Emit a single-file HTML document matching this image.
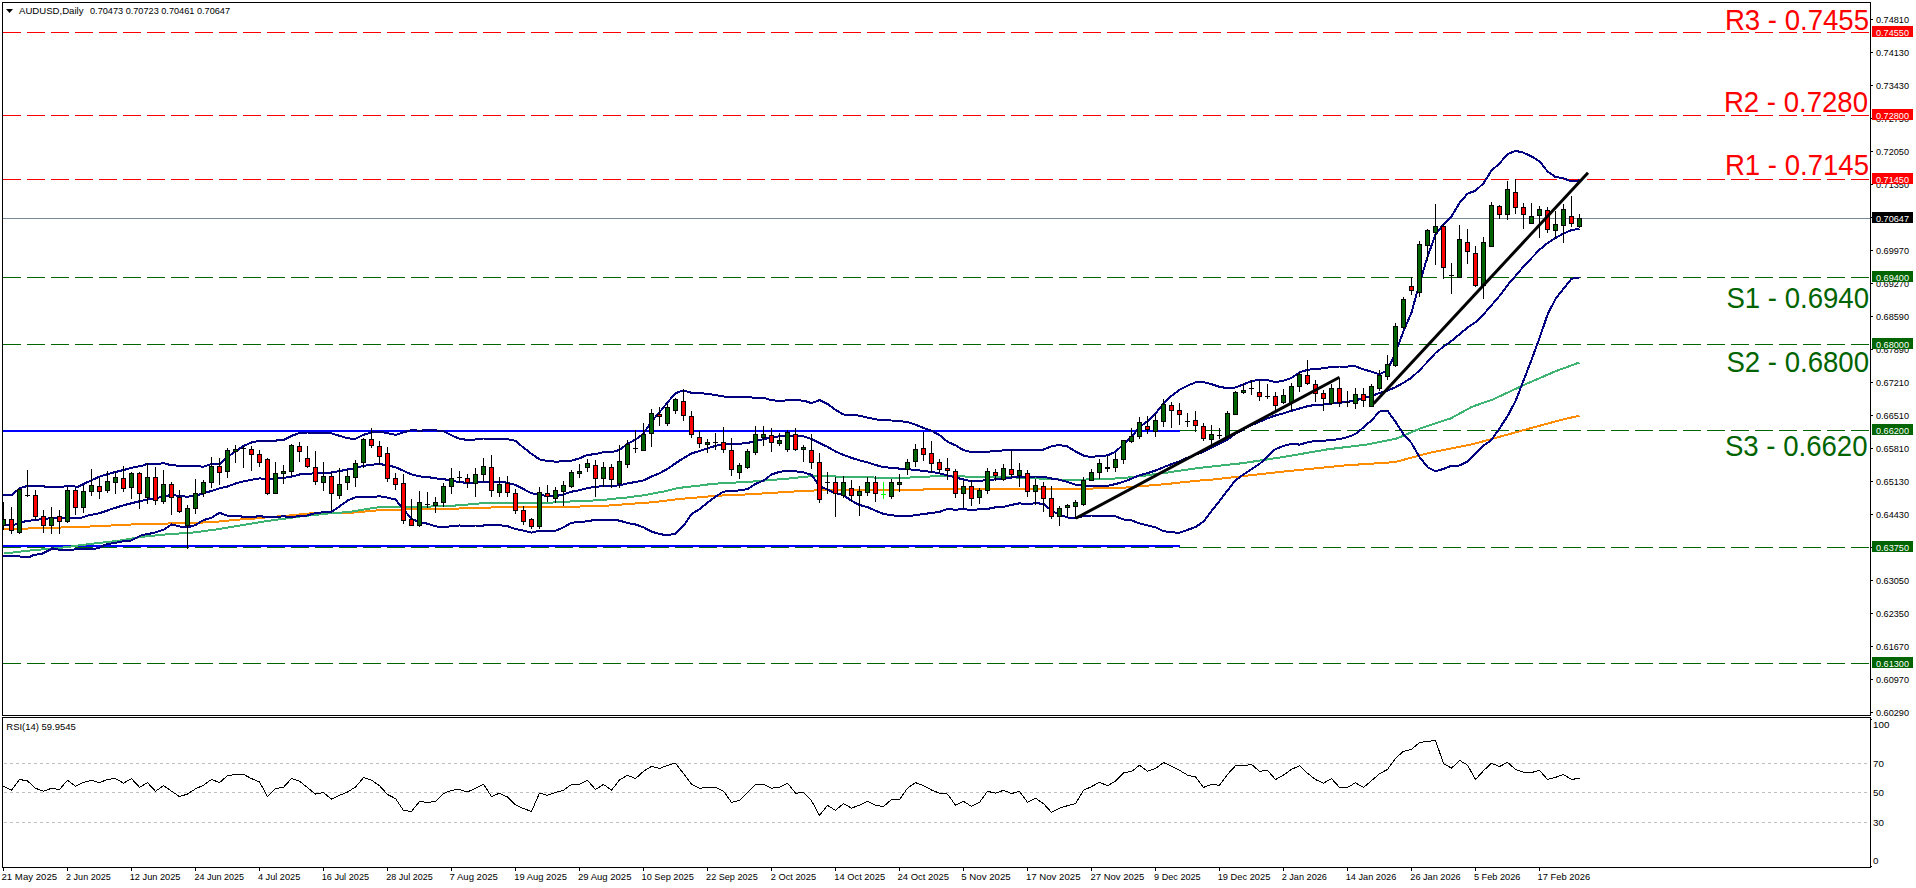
<!DOCTYPE html>
<html><head><meta charset="utf-8"><style>html,body{margin:0;padding:0;background:#fff;overflow:hidden}svg{display:block}</style></head>
<body>
<svg width="1916" height="888" viewBox="0 0 1916 888" shape-rendering="crispEdges">
<rect x="0" y="0" width="1916" height="888" fill="#fff"/>
<defs><clipPath id="cm"><rect x="3" y="3" width="1867" height="712"/></clipPath><clipPath id="cr"><rect x="3" y="719" width="1867" height="147"/></clipPath></defs>
<g clip-path="url(#cm)">
<line x1="3" y1="32.5" x2="1870" y2="32.5" stroke="#ff0000" stroke-width="1" stroke-dasharray="18 6"/>
<line x1="3" y1="115.5" x2="1870" y2="115.5" stroke="#ff0000" stroke-width="1" stroke-dasharray="18 6"/>
<line x1="3" y1="179.5" x2="1870" y2="179.5" stroke="#ff0000" stroke-width="1" stroke-dasharray="18 6"/>
<line x1="3" y1="277.5" x2="1870" y2="277.5" stroke="#006400" stroke-width="1" stroke-dasharray="18 6"/>
<line x1="3" y1="344.5" x2="1870" y2="344.5" stroke="#006400" stroke-width="1" stroke-dasharray="18 6"/>
<line x1="3" y1="430.5" x2="1870" y2="430.5" stroke="#006400" stroke-width="1" stroke-dasharray="18 6"/>
<line x1="3" y1="547.5" x2="1870" y2="547.5" stroke="#006400" stroke-width="1" stroke-dasharray="18 6"/>
<line x1="3" y1="663.5" x2="1870" y2="663.5" stroke="#006400" stroke-width="1" stroke-dasharray="18 6"/>
<line x1="3" y1="218.5" x2="1870" y2="218.5" stroke="#778899" stroke-width="1"/>
<rect x="3" y="430" width="1177" height="2" fill="#0000ff"/>
<rect x="3" y="545" width="1177" height="2" fill="#0000ff"/>
<polyline points="3.8,528.9 15.5,528.9 48.1,527.9 80.3,526.9 104.2,525.9 124.5,524.7 144.5,524.1 184.5,523.1 212.5,522.2 224.5,521.0 232.1,520.1 244.5,519.2 256.5,518.4 270.5,517.0 288.1,515.6 296.5,514.7 309.5,513.5 330.5,513.3 348.9,512.9 372.3,510.9 384.0,509.8 450.8,508.7 475.8,508.1 500.8,507.1 522.5,506.7 550.9,506.9 576.0,506.6 602.4,506.0 618.1,504.8 632.3,503.7 644.2,502.9 655.9,501.9 664.0,500.9 671.9,499.9 680.0,498.9 692.3,497.9 704.5,496.9 714.5,495.9 722.5,495.5 736.2,495.0 756.1,493.9 772.2,492.9 788.1,491.9 804.2,490.8 830.5,490.0 880.5,490.0 921.5,489.8 927.5,488.9 960.5,488.6 1059.5,488.5 1062.5,489.1 1090.5,489.1 1094.5,488.1 1123.5,488.1 1128.1,487.1 1136.0,486.6 1144.1,486.0 1156.0,484.9 1168.2,483.9 1176.5,482.9 1201.0,480.4 1213.0,479.5 1284.0,471.5 1346.6,465.3 1394.7,462.1 1430.1,452.7 1471.9,444.4 1513.7,432.9 1555.4,421.4 1579.4,415.6" fill="none" stroke="#ff8c00" stroke-width="2" stroke-linejoin="round" shape-rendering="crispEdges"/>
<polyline points="3.8,553.5 33.9,550.1 58.9,548.1 87.3,544.3 117.4,540.9 142.4,536.8 167.5,534.3 192.5,532.6 217.5,529.3 242.5,525.1 267.6,520.9 292.7,517.6 300.5,516.4 332.2,513.1 348.9,512.1 372.3,508.1 380.7,507.1 407.4,506.7 444.1,506.4 460.8,505.1 484.1,503.1 517.5,502.6 550.9,502.6 576.0,501.2 602.4,500.1 612.1,498.8 624.0,497.9 632.1,496.8 640.2,495.7 646.2,494.9 650.3,494.1 656.2,492.9 661.9,491.9 666.3,491.0 670.1,490.0 674.2,488.8 680.2,487.8 688.1,486.8 696.2,486.0 704.3,484.9 712.3,483.9 726.5,483.0 748.3,481.9 762.1,480.7 782.3,479.1 794.0,478.0 802.1,477.0 814.1,476.0 840.5,476.6 854.3,476.8 882.4,477.8 904.2,477.8 924.2,476.8 939.1,476.0 985.5,476.9 1020.5,477.6 1045.5,478.8 1060.5,479.6 1080.5,479.7 1112.1,478.7 1128.1,477.5 1136.2,476.6 1144.3,475.7 1152.4,474.5 1160.5,473.5 1168.5,472.4 1178.5,470.8 1200.5,467.8 1242.3,463.2 1284.0,456.9 1325.8,449.6 1367.5,444.4 1396.7,438.5 1419.7,428.7 1451.0,418.3 1471.9,406.8 1492.8,399.5 1524.1,384.9 1555.4,371.3 1579.4,362.5" fill="none" stroke="#3cb371" stroke-width="2" stroke-linejoin="round" shape-rendering="crispEdges"/>
<polyline points="3.2,494.9 12.3,494.9 17.8,489.7 20.9,487.8 26.5,486.2 43.9,486.2 45.1,487.2 62.5,487.2 64.9,486.0 72.4,486.0 77.3,487.0 87.2,482.2 99.6,476.6 112.0,472.9 124.4,469.8 131.3,467.8 143.4,465.4 148.1,463.5 155.5,464.1 163.5,463.2 171.5,465.3 179.5,465.7 187.5,465.9 195.5,466.1 203.5,466.7 211.5,463.9 219.5,464.2 227.5,457.1 235.5,451.4 243.5,445.9 251.5,442.5 259.5,440.7 267.5,440.8 275.5,440.6 283.5,439.9 291.5,435.9 299.5,433.1 307.5,432.5 315.5,433.1 323.5,433.0 331.5,433.3 339.5,435.8 347.5,438.4 355.5,438.8 363.5,434.8 371.5,432.5 379.5,431.7 387.5,433.2 395.5,434.9 403.5,432.4 411.5,430.0 419.5,430.7 427.5,430.2 435.5,430.4 443.5,431.1 451.5,435.4 459.5,438.7 467.5,440.0 475.5,439.5 483.5,438.5 491.5,438.5 499.5,438.5 507.5,439.1 515.5,440.9 523.5,447.7 531.5,453.8 539.5,459.4 547.5,461.1 555.5,461.6 563.5,461.4 571.5,460.7 579.5,458.3 587.5,454.9 595.5,454.1 603.5,452.1 611.5,452.2 619.5,449.9 627.5,443.7 635.5,439.6 643.5,433.5 651.5,421.5 659.5,412.4 667.5,402.4 675.5,393.2 683.5,390.3 691.5,392.8 699.5,393.0 707.5,394.0 715.5,395.0 723.5,396.5 731.5,396.7 739.5,397.0 747.5,397.1 755.5,397.8 763.5,397.8 771.5,400.3 779.5,400.8 787.5,400.4 795.5,400.3 803.5,400.6 811.5,403.1 819.5,400.1 827.5,403.9 835.5,409.9 843.5,414.5 851.5,415.0 859.5,415.6 867.5,417.6 875.5,419.3 883.5,420.4 891.5,420.5 899.5,421.0 907.5,422.1 915.5,424.6 923.5,427.9 931.5,430.8 939.5,435.0 947.5,441.8 955.5,445.3 963.5,450.2 971.5,452.0 979.5,452.5 987.5,451.6 995.5,451.3 1003.5,450.3 1011.5,450.3 1019.5,449.8 1027.5,449.6 1035.5,450.0 1043.5,449.6 1051.5,446.2 1059.5,445.0 1067.5,446.5 1075.5,451.5 1083.5,455.6 1091.5,457.1 1099.5,455.9 1107.5,455.4 1115.5,451.8 1123.5,444.1 1131.5,437.0 1139.5,427.1 1147.5,421.1 1155.5,413.5 1163.5,403.4 1171.5,395.8 1179.5,389.8 1187.5,385.6 1195.5,382.4 1203.5,382.0 1211.5,384.2 1219.5,386.8 1227.5,388.2 1235.5,387.5 1243.5,384.3 1251.5,381.1 1259.5,379.6 1267.5,380.1 1275.5,382.1 1283.5,380.6 1291.5,377.9 1299.5,372.4 1307.5,369.9 1315.5,368.8 1323.5,368.4 1331.5,366.7 1339.5,366.5 1347.5,366.5 1355.5,366.4 1363.5,369.3 1371.5,371.7 1379.5,374.4 1387.5,370.3 1395.5,352.7 1403.5,331.2 1411.5,312.6 1419.5,283.4 1427.5,256.7 1435.5,234.5 1443.5,224.2 1451.5,216.3 1459.5,203.0 1467.5,193.7 1475.5,190.7 1483.5,183.3 1491.5,170.6 1499.5,163.4 1507.5,154.3 1515.5,150.8 1523.5,152.7 1531.5,156.4 1539.5,161.3 1547.5,171.4 1555.5,177.0 1563.5,178.3 1571.5,181.4 1579.5,180.3" fill="none" stroke="#000080" stroke-width="2" stroke-linejoin="round" shape-rendering="crispEdges"/>
<polyline points="3.2,525.0 14.1,525.0 17.8,523.1 25.3,521.3 35.2,520.0 50.1,518.2 82.3,517.5 87.2,515.7 99.6,513.2 112.0,508.9 124.5,505.0 132.6,503.0 140.7,501.0 147.5,499.5 155.5,498.3 163.5,496.5 171.5,494.9 179.5,496.0 187.5,496.7 195.5,495.6 203.5,493.4 211.5,490.9 219.5,488.4 227.5,486.5 235.5,483.5 243.5,481.4 251.5,479.8 259.5,478.4 267.5,479.0 275.5,478.8 283.5,478.0 291.5,476.6 299.5,474.5 307.5,474.0 315.5,473.1 323.5,472.7 331.5,472.5 339.5,471.1 347.5,469.5 355.5,468.0 363.5,465.8 371.5,464.8 379.5,464.0 387.5,465.4 395.5,467.2 403.5,470.8 411.5,474.4 419.5,476.4 427.5,477.0 435.5,478.4 443.5,479.1 451.5,480.8 459.5,482.1 467.5,482.9 475.5,482.5 483.5,482.0 491.5,481.8 499.5,481.8 507.5,482.7 515.5,485.0 523.5,489.1 531.5,493.2 539.5,495.0 547.5,495.9 555.5,496.2 563.5,494.4 571.5,491.7 579.5,490.2 587.5,488.1 595.5,486.9 603.5,486.0 611.5,486.1 619.5,485.3 627.5,483.4 635.5,482.0 643.5,480.4 651.5,476.6 659.5,473.2 667.5,468.9 675.5,463.3 683.5,458.1 691.5,453.5 699.5,451.0 707.5,448.3 715.5,445.9 723.5,444.1 731.5,443.9 739.5,443.7 747.5,443.1 755.5,440.9 763.5,439.2 771.5,437.4 779.5,436.3 787.5,435.7 795.5,435.8 803.5,436.4 811.5,438.9 819.5,443.1 827.5,446.8 835.5,451.5 843.5,454.9 851.5,457.9 859.5,460.3 867.5,462.3 875.5,464.9 883.5,467.2 891.5,467.8 899.5,468.6 907.5,469.2 915.5,469.9 923.5,470.9 931.5,471.9 939.5,473.4 947.5,475.3 955.5,477.5 963.5,479.5 971.5,481.3 979.5,480.8 987.5,480.2 995.5,479.3 1003.5,478.6 1011.5,477.6 1019.5,476.5 1027.5,477.0 1035.5,476.5 1043.5,476.8 1051.5,478.5 1059.5,479.8 1067.5,482.0 1075.5,484.6 1083.5,485.9 1091.5,486.3 1099.5,486.0 1107.5,485.8 1115.5,484.1 1123.5,481.8 1131.5,478.7 1139.5,475.3 1147.5,473.2 1155.5,470.5 1163.5,467.2 1171.5,464.1 1179.5,461.3 1187.5,457.7 1195.5,454.8 1203.5,451.8 1211.5,447.6 1219.5,443.9 1227.5,439.4 1235.5,433.8 1243.5,429.4 1251.5,425.1 1259.5,421.8 1267.5,418.3 1275.5,415.5 1283.5,413.3 1291.5,410.8 1299.5,408.5 1307.5,406.2 1315.5,404.8 1323.5,404.5 1331.5,403.4 1339.5,402.8 1347.5,401.8 1355.5,400.2 1363.5,398.3 1371.5,396.0 1379.5,393.0 1387.5,390.5 1395.5,387.2 1403.5,382.7 1411.5,377.8 1419.5,370.2 1427.5,361.9 1435.5,353.0 1443.5,346.6 1451.5,341.0 1459.5,334.3 1467.5,327.6 1475.5,322.2 1483.5,314.4 1491.5,305.3 1499.5,295.9 1507.5,285.2 1515.5,275.9 1523.5,266.6 1531.5,258.1 1539.5,249.8 1547.5,243.1 1555.5,238.0 1563.5,233.5 1571.5,230.1 1579.5,228.8" fill="none" stroke="#000080" stroke-width="2" stroke-linejoin="round" shape-rendering="crispEdges"/>
<polyline points="3.2,556.0 19.1,556.0 20.3,556.8 30.2,556.8 32.7,555.3 42.6,553.5 52.5,548.5 60.0,549.8 92.2,549.1 99.6,547.9 104.5,544.8 114.5,542.9 124.4,541.1 131.3,540.5 142.4,534.8 147.5,534.2 155.5,532.4 163.5,529.8 171.5,524.5 179.5,526.4 187.5,527.5 195.5,525.0 203.5,520.1 211.5,517.8 219.5,512.7 227.5,515.8 235.5,515.6 243.5,516.8 251.5,517.2 259.5,516.1 267.5,517.2 275.5,517.1 283.5,516.2 291.5,517.4 299.5,515.9 307.5,515.5 315.5,513.0 323.5,512.3 331.5,511.7 339.5,506.4 347.5,500.6 355.5,497.2 363.5,496.9 371.5,497.1 379.5,496.3 387.5,497.6 395.5,499.5 403.5,509.3 411.5,518.8 419.5,522.1 427.5,523.7 435.5,526.4 443.5,527.1 451.5,526.2 459.5,525.5 467.5,525.7 475.5,525.5 483.5,525.5 491.5,525.2 499.5,525.2 507.5,526.2 515.5,529.1 523.5,530.6 531.5,532.6 539.5,530.6 547.5,530.7 555.5,530.7 563.5,527.4 571.5,522.7 579.5,522.0 587.5,521.3 595.5,519.7 603.5,519.9 611.5,519.9 619.5,520.6 627.5,523.0 635.5,524.5 643.5,527.3 651.5,531.6 659.5,534.0 667.5,535.4 675.5,533.5 683.5,525.8 691.5,514.1 699.5,509.1 707.5,502.6 715.5,496.7 723.5,491.6 731.5,491.2 739.5,490.4 747.5,489.1 755.5,483.9 763.5,480.6 771.5,474.5 779.5,471.8 787.5,471.0 795.5,471.3 803.5,472.3 811.5,474.8 819.5,486.1 827.5,489.7 835.5,493.2 843.5,495.2 851.5,500.8 859.5,505.0 867.5,507.1 875.5,510.6 883.5,514.0 891.5,515.1 899.5,516.3 907.5,516.3 915.5,515.2 923.5,513.9 931.5,513.1 939.5,511.9 947.5,508.9 955.5,509.8 963.5,508.7 971.5,510.5 979.5,509.1 987.5,508.9 995.5,507.3 1003.5,507.0 1011.5,504.9 1019.5,503.3 1027.5,504.4 1035.5,503.1 1043.5,503.9 1051.5,510.7 1059.5,514.6 1067.5,517.5 1075.5,517.8 1083.5,516.1 1091.5,515.5 1099.5,516.1 1107.5,516.3 1115.5,516.4 1123.5,519.4 1131.5,520.4 1139.5,523.4 1147.5,525.3 1155.5,527.4 1163.5,531.1 1171.5,532.3 1179.5,532.8 1187.5,529.9 1195.5,527.1 1203.5,521.6 1211.5,511.1 1219.5,501.1 1227.5,490.5 1235.5,480.2 1243.5,474.5 1251.5,469.2 1259.5,464.0 1267.5,456.4 1275.5,449.0 1283.5,446.0 1291.5,443.8 1299.5,444.6 1307.5,442.4 1315.5,440.9 1323.5,440.7 1331.5,440.1 1339.5,439.1 1347.5,437.2 1355.5,434.0 1363.5,427.4 1371.5,420.3 1379.5,411.6 1387.5,410.7 1395.5,421.7 1403.5,434.2 1411.5,443.0 1419.5,457.0 1427.5,467.1 1435.5,471.4 1443.5,468.9 1451.5,465.8 1459.5,465.5 1467.5,461.6 1475.5,453.8 1483.5,445.6 1491.5,440.0 1499.5,428.4 1507.5,416.2 1515.5,401.1 1523.5,380.6 1531.5,359.8 1539.5,338.2 1547.5,314.7 1555.5,298.9 1563.5,288.7 1571.5,278.8 1579.5,277.4" fill="none" stroke="#000080" stroke-width="2" stroke-linejoin="round" shape-rendering="crispEdges"/>
<rect x="3" y="502" width="1" height="28" fill="#000"/>
<rect x="1" y="519" width="5" height="7" fill="#000"/>
<rect x="2" y="520" width="3" height="5" fill="#006400"/>
<rect x="11" y="507" width="1" height="27" fill="#000"/>
<rect x="9" y="519" width="5" height="12" fill="#000"/>
<rect x="10" y="520" width="3" height="10" fill="#ff0000"/>
<rect x="19" y="489" width="1" height="45" fill="#000"/>
<rect x="17" y="489" width="5" height="44" fill="#000"/>
<rect x="18" y="490" width="3" height="42" fill="#006400"/>
<rect x="27" y="470" width="1" height="27" fill="#000"/>
<rect x="25" y="495" width="5" height="1" fill="#000"/>
<rect x="35" y="490" width="1" height="30" fill="#000"/>
<rect x="33" y="495" width="5" height="22" fill="#000"/>
<rect x="34" y="496" width="3" height="20" fill="#ff0000"/>
<rect x="43" y="510" width="1" height="23" fill="#000"/>
<rect x="41" y="516" width="5" height="10" fill="#000"/>
<rect x="42" y="517" width="3" height="8" fill="#ff0000"/>
<rect x="51" y="507" width="1" height="27" fill="#000"/>
<rect x="49" y="517" width="5" height="9" fill="#000"/>
<rect x="50" y="518" width="3" height="7" fill="#006400"/>
<rect x="59" y="510" width="1" height="24" fill="#000"/>
<rect x="57" y="516" width="5" height="6" fill="#000"/>
<rect x="58" y="517" width="3" height="4" fill="#ff0000"/>
<rect x="67" y="487" width="1" height="36" fill="#000"/>
<rect x="65" y="490" width="5" height="32" fill="#000"/>
<rect x="66" y="491" width="3" height="30" fill="#006400"/>
<rect x="75" y="488" width="1" height="27" fill="#000"/>
<rect x="73" y="490" width="5" height="18" fill="#000"/>
<rect x="74" y="491" width="3" height="16" fill="#ff0000"/>
<rect x="83" y="485" width="1" height="28" fill="#000"/>
<rect x="81" y="491" width="5" height="17" fill="#000"/>
<rect x="82" y="492" width="3" height="15" fill="#006400"/>
<rect x="91" y="469" width="1" height="27" fill="#000"/>
<rect x="89" y="485" width="5" height="7" fill="#000"/>
<rect x="90" y="486" width="3" height="5" fill="#006400"/>
<rect x="99" y="478" width="1" height="21" fill="#000"/>
<rect x="97" y="486" width="5" height="6" fill="#000"/>
<rect x="98" y="487" width="3" height="4" fill="#ff0000"/>
<rect x="107" y="471" width="1" height="22" fill="#000"/>
<rect x="105" y="481" width="5" height="10" fill="#000"/>
<rect x="106" y="482" width="3" height="8" fill="#006400"/>
<rect x="115" y="472" width="1" height="22" fill="#000"/>
<rect x="113" y="477" width="5" height="6" fill="#000"/>
<rect x="114" y="478" width="3" height="4" fill="#006400"/>
<rect x="123" y="466" width="1" height="26" fill="#000"/>
<rect x="121" y="478" width="5" height="11" fill="#000"/>
<rect x="122" y="479" width="3" height="9" fill="#ff0000"/>
<rect x="131" y="472" width="1" height="27" fill="#000"/>
<rect x="129" y="473" width="5" height="15" fill="#000"/>
<rect x="130" y="474" width="3" height="13" fill="#006400"/>
<rect x="139" y="472" width="1" height="37" fill="#000"/>
<rect x="137" y="473" width="5" height="21" fill="#000"/>
<rect x="138" y="474" width="3" height="19" fill="#ff0000"/>
<rect x="147" y="463" width="1" height="41" fill="#000"/>
<rect x="145" y="477" width="5" height="21" fill="#000"/>
<rect x="146" y="478" width="3" height="19" fill="#006400"/>
<rect x="155" y="467" width="1" height="38" fill="#000"/>
<rect x="153" y="477" width="5" height="24" fill="#000"/>
<rect x="154" y="478" width="3" height="22" fill="#ff0000"/>
<rect x="163" y="470" width="1" height="34" fill="#000"/>
<rect x="161" y="484" width="5" height="18" fill="#000"/>
<rect x="162" y="485" width="3" height="16" fill="#006400"/>
<rect x="171" y="482" width="1" height="33" fill="#000"/>
<rect x="169" y="484" width="5" height="14" fill="#000"/>
<rect x="170" y="485" width="3" height="12" fill="#ff0000"/>
<rect x="179" y="490" width="1" height="23" fill="#000"/>
<rect x="177" y="497" width="5" height="15" fill="#000"/>
<rect x="178" y="498" width="3" height="13" fill="#ff0000"/>
<rect x="187" y="505" width="1" height="44" fill="#000"/>
<rect x="185" y="508" width="5" height="18" fill="#000"/>
<rect x="186" y="509" width="3" height="16" fill="#006400"/>
<rect x="195" y="479" width="1" height="35" fill="#000"/>
<rect x="193" y="493" width="5" height="16" fill="#000"/>
<rect x="194" y="494" width="3" height="14" fill="#006400"/>
<rect x="203" y="480" width="1" height="17" fill="#000"/>
<rect x="201" y="482" width="5" height="12" fill="#000"/>
<rect x="202" y="483" width="3" height="10" fill="#006400"/>
<rect x="211" y="457" width="1" height="31" fill="#000"/>
<rect x="209" y="466" width="5" height="17" fill="#000"/>
<rect x="210" y="467" width="3" height="15" fill="#006400"/>
<rect x="219" y="458" width="1" height="27" fill="#000"/>
<rect x="217" y="466" width="5" height="7" fill="#000"/>
<rect x="218" y="467" width="3" height="5" fill="#ff0000"/>
<rect x="227" y="448" width="1" height="30" fill="#000"/>
<rect x="225" y="450" width="5" height="22" fill="#000"/>
<rect x="226" y="451" width="3" height="20" fill="#006400"/>
<rect x="235" y="445" width="1" height="18" fill="#000"/>
<rect x="233" y="449" width="5" height="3" fill="#000"/>
<rect x="234" y="450" width="3" height="1" fill="#006400"/>
<rect x="243" y="446" width="1" height="22" fill="#000"/>
<rect x="241" y="448" width="5" height="1" fill="#000"/>
<rect x="251" y="446" width="1" height="25" fill="#000"/>
<rect x="249" y="449" width="5" height="6" fill="#000"/>
<rect x="250" y="450" width="3" height="4" fill="#ff0000"/>
<rect x="259" y="450" width="1" height="17" fill="#000"/>
<rect x="257" y="454" width="5" height="9" fill="#000"/>
<rect x="258" y="455" width="3" height="7" fill="#ff0000"/>
<rect x="267" y="458" width="1" height="37" fill="#000"/>
<rect x="265" y="459" width="5" height="35" fill="#000"/>
<rect x="266" y="460" width="3" height="33" fill="#ff0000"/>
<rect x="275" y="462" width="1" height="32" fill="#000"/>
<rect x="273" y="473" width="5" height="21" fill="#000"/>
<rect x="274" y="474" width="3" height="19" fill="#006400"/>
<rect x="283" y="465" width="1" height="19" fill="#000"/>
<rect x="281" y="471" width="5" height="3" fill="#000"/>
<rect x="282" y="472" width="3" height="1" fill="#006400"/>
<rect x="291" y="444" width="1" height="32" fill="#000"/>
<rect x="289" y="445" width="5" height="27" fill="#000"/>
<rect x="290" y="446" width="3" height="25" fill="#006400"/>
<rect x="299" y="442" width="1" height="20" fill="#000"/>
<rect x="297" y="446" width="5" height="6" fill="#000"/>
<rect x="298" y="447" width="3" height="4" fill="#ff0000"/>
<rect x="307" y="446" width="1" height="22" fill="#000"/>
<rect x="305" y="458" width="5" height="9" fill="#000"/>
<rect x="306" y="459" width="3" height="7" fill="#ff0000"/>
<rect x="315" y="451" width="1" height="34" fill="#000"/>
<rect x="313" y="467" width="5" height="15" fill="#000"/>
<rect x="314" y="468" width="3" height="13" fill="#ff0000"/>
<rect x="323" y="462" width="1" height="29" fill="#000"/>
<rect x="321" y="476" width="5" height="7" fill="#000"/>
<rect x="322" y="477" width="3" height="5" fill="#006400"/>
<rect x="331" y="473" width="1" height="38" fill="#000"/>
<rect x="329" y="476" width="5" height="18" fill="#000"/>
<rect x="330" y="477" width="3" height="16" fill="#ff0000"/>
<rect x="339" y="468" width="1" height="31" fill="#000"/>
<rect x="337" y="484" width="5" height="12" fill="#000"/>
<rect x="338" y="485" width="3" height="10" fill="#006400"/>
<rect x="347" y="470" width="1" height="20" fill="#000"/>
<rect x="345" y="476" width="5" height="7" fill="#000"/>
<rect x="346" y="477" width="3" height="5" fill="#006400"/>
<rect x="355" y="460" width="1" height="27" fill="#000"/>
<rect x="353" y="463" width="5" height="15" fill="#000"/>
<rect x="354" y="464" width="3" height="13" fill="#006400"/>
<rect x="363" y="438" width="1" height="30" fill="#000"/>
<rect x="361" y="439" width="5" height="24" fill="#000"/>
<rect x="362" y="440" width="3" height="22" fill="#006400"/>
<rect x="371" y="428" width="1" height="20" fill="#000"/>
<rect x="369" y="439" width="5" height="7" fill="#000"/>
<rect x="370" y="440" width="3" height="5" fill="#ff0000"/>
<rect x="379" y="441" width="1" height="24" fill="#000"/>
<rect x="377" y="446" width="5" height="11" fill="#000"/>
<rect x="378" y="447" width="3" height="9" fill="#ff0000"/>
<rect x="387" y="447" width="1" height="35" fill="#000"/>
<rect x="385" y="453" width="5" height="26" fill="#000"/>
<rect x="386" y="454" width="3" height="24" fill="#ff0000"/>
<rect x="395" y="473" width="1" height="17" fill="#000"/>
<rect x="393" y="478" width="5" height="7" fill="#000"/>
<rect x="394" y="479" width="3" height="5" fill="#ff0000"/>
<rect x="403" y="474" width="1" height="50" fill="#000"/>
<rect x="401" y="483" width="5" height="38" fill="#000"/>
<rect x="402" y="484" width="3" height="36" fill="#ff0000"/>
<rect x="411" y="499" width="1" height="27" fill="#000"/>
<rect x="409" y="519" width="5" height="7" fill="#000"/>
<rect x="410" y="520" width="3" height="5" fill="#ff0000"/>
<rect x="419" y="491" width="1" height="36" fill="#000"/>
<rect x="417" y="502" width="5" height="24" fill="#000"/>
<rect x="418" y="503" width="3" height="22" fill="#006400"/>
<rect x="427" y="492" width="1" height="16" fill="#000"/>
<rect x="425" y="504" width="5" height="1" fill="#000"/>
<rect x="435" y="497" width="1" height="16" fill="#000"/>
<rect x="433" y="502" width="5" height="4" fill="#000"/>
<rect x="434" y="503" width="3" height="2" fill="#006400"/>
<rect x="443" y="483" width="1" height="24" fill="#000"/>
<rect x="441" y="486" width="5" height="17" fill="#000"/>
<rect x="442" y="487" width="3" height="15" fill="#006400"/>
<rect x="451" y="468" width="1" height="26" fill="#000"/>
<rect x="449" y="478" width="5" height="9" fill="#000"/>
<rect x="450" y="479" width="3" height="7" fill="#006400"/>
<rect x="459" y="471" width="1" height="12" fill="#000"/>
<rect x="457" y="477" width="5" height="1" fill="#000"/>
<rect x="467" y="474" width="1" height="14" fill="#000"/>
<rect x="465" y="478" width="5" height="5" fill="#000"/>
<rect x="466" y="479" width="3" height="3" fill="#ff0000"/>
<rect x="475" y="468" width="1" height="29" fill="#000"/>
<rect x="473" y="474" width="5" height="10" fill="#000"/>
<rect x="474" y="475" width="3" height="8" fill="#006400"/>
<rect x="483" y="458" width="1" height="24" fill="#000"/>
<rect x="481" y="466" width="5" height="9" fill="#000"/>
<rect x="482" y="467" width="3" height="7" fill="#006400"/>
<rect x="491" y="455" width="1" height="42" fill="#000"/>
<rect x="489" y="467" width="5" height="24" fill="#000"/>
<rect x="490" y="468" width="3" height="22" fill="#ff0000"/>
<rect x="499" y="477" width="1" height="20" fill="#000"/>
<rect x="497" y="484" width="5" height="9" fill="#000"/>
<rect x="498" y="485" width="3" height="7" fill="#006400"/>
<rect x="507" y="476" width="1" height="21" fill="#000"/>
<rect x="505" y="483" width="5" height="10" fill="#000"/>
<rect x="506" y="484" width="3" height="8" fill="#ff0000"/>
<rect x="515" y="489" width="1" height="25" fill="#000"/>
<rect x="513" y="493" width="5" height="18" fill="#000"/>
<rect x="514" y="494" width="3" height="16" fill="#ff0000"/>
<rect x="523" y="506" width="1" height="19" fill="#000"/>
<rect x="521" y="510" width="5" height="12" fill="#000"/>
<rect x="522" y="511" width="3" height="10" fill="#ff0000"/>
<rect x="531" y="518" width="1" height="11" fill="#000"/>
<rect x="529" y="519" width="5" height="8" fill="#000"/>
<rect x="530" y="520" width="3" height="6" fill="#ff0000"/>
<rect x="539" y="487" width="1" height="42" fill="#000"/>
<rect x="537" y="492" width="5" height="35" fill="#000"/>
<rect x="538" y="493" width="3" height="33" fill="#006400"/>
<rect x="547" y="485" width="1" height="17" fill="#000"/>
<rect x="545" y="493" width="5" height="4" fill="#000"/>
<rect x="546" y="494" width="3" height="2" fill="#ff0000"/>
<rect x="555" y="487" width="1" height="16" fill="#000"/>
<rect x="553" y="490" width="5" height="9" fill="#000"/>
<rect x="554" y="491" width="3" height="7" fill="#006400"/>
<rect x="563" y="481" width="1" height="25" fill="#000"/>
<rect x="561" y="485" width="5" height="7" fill="#000"/>
<rect x="562" y="486" width="3" height="5" fill="#006400"/>
<rect x="571" y="470" width="1" height="18" fill="#000"/>
<rect x="569" y="472" width="5" height="15" fill="#000"/>
<rect x="570" y="473" width="3" height="13" fill="#006400"/>
<rect x="579" y="464" width="1" height="14" fill="#000"/>
<rect x="577" y="471" width="5" height="3" fill="#000"/>
<rect x="578" y="472" width="3" height="1" fill="#006400"/>
<rect x="587" y="459" width="1" height="13" fill="#000"/>
<rect x="585" y="463" width="5" height="5" fill="#000"/>
<rect x="586" y="464" width="3" height="3" fill="#006400"/>
<rect x="595" y="460" width="1" height="37" fill="#000"/>
<rect x="593" y="465" width="5" height="14" fill="#000"/>
<rect x="594" y="466" width="3" height="12" fill="#ff0000"/>
<rect x="603" y="462" width="1" height="25" fill="#000"/>
<rect x="601" y="467" width="5" height="12" fill="#000"/>
<rect x="602" y="468" width="3" height="10" fill="#006400"/>
<rect x="611" y="464" width="1" height="24" fill="#000"/>
<rect x="609" y="467" width="5" height="13" fill="#000"/>
<rect x="610" y="468" width="3" height="11" fill="#ff0000"/>
<rect x="619" y="445" width="1" height="43" fill="#000"/>
<rect x="617" y="461" width="5" height="23" fill="#000"/>
<rect x="618" y="462" width="3" height="21" fill="#006400"/>
<rect x="627" y="440" width="1" height="28" fill="#000"/>
<rect x="625" y="444" width="5" height="21" fill="#000"/>
<rect x="626" y="445" width="3" height="19" fill="#006400"/>
<rect x="635" y="430" width="1" height="23" fill="#000"/>
<rect x="633" y="448" width="5" height="1" fill="#000"/>
<rect x="643" y="423" width="1" height="28" fill="#000"/>
<rect x="641" y="434" width="5" height="17" fill="#000"/>
<rect x="642" y="435" width="3" height="15" fill="#006400"/>
<rect x="651" y="409" width="1" height="38" fill="#000"/>
<rect x="649" y="413" width="5" height="21" fill="#000"/>
<rect x="650" y="414" width="3" height="19" fill="#006400"/>
<rect x="659" y="407" width="1" height="19" fill="#000"/>
<rect x="657" y="414" width="5" height="3" fill="#000"/>
<rect x="658" y="415" width="3" height="1" fill="#ff0000"/>
<rect x="667" y="404" width="1" height="22" fill="#000"/>
<rect x="665" y="407" width="5" height="17" fill="#000"/>
<rect x="666" y="408" width="3" height="15" fill="#006400"/>
<rect x="675" y="398" width="1" height="16" fill="#000"/>
<rect x="673" y="399" width="5" height="12" fill="#000"/>
<rect x="674" y="400" width="3" height="10" fill="#006400"/>
<rect x="683" y="389" width="1" height="32" fill="#000"/>
<rect x="681" y="401" width="5" height="15" fill="#000"/>
<rect x="682" y="402" width="3" height="13" fill="#ff0000"/>
<rect x="691" y="411" width="1" height="27" fill="#000"/>
<rect x="689" y="416" width="5" height="19" fill="#000"/>
<rect x="690" y="417" width="3" height="17" fill="#ff0000"/>
<rect x="699" y="431" width="1" height="17" fill="#000"/>
<rect x="697" y="437" width="5" height="7" fill="#000"/>
<rect x="698" y="438" width="3" height="5" fill="#ff0000"/>
<rect x="707" y="439" width="1" height="14" fill="#000"/>
<rect x="705" y="442" width="5" height="3" fill="#000"/>
<rect x="706" y="443" width="3" height="1" fill="#006400"/>
<rect x="715" y="433" width="1" height="17" fill="#000"/>
<rect x="713" y="442" width="5" height="1" fill="#000"/>
<rect x="723" y="427" width="1" height="26" fill="#000"/>
<rect x="721" y="442" width="5" height="8" fill="#000"/>
<rect x="722" y="443" width="3" height="6" fill="#ff0000"/>
<rect x="731" y="438" width="1" height="38" fill="#000"/>
<rect x="729" y="450" width="5" height="20" fill="#000"/>
<rect x="730" y="451" width="3" height="18" fill="#ff0000"/>
<rect x="739" y="463" width="1" height="16" fill="#000"/>
<rect x="737" y="465" width="5" height="8" fill="#000"/>
<rect x="738" y="466" width="3" height="6" fill="#006400"/>
<rect x="747" y="449" width="1" height="20" fill="#000"/>
<rect x="745" y="451" width="5" height="17" fill="#000"/>
<rect x="746" y="452" width="3" height="15" fill="#006400"/>
<rect x="755" y="426" width="1" height="29" fill="#000"/>
<rect x="753" y="434" width="5" height="19" fill="#000"/>
<rect x="754" y="435" width="3" height="17" fill="#006400"/>
<rect x="763" y="426" width="1" height="20" fill="#000"/>
<rect x="761" y="434" width="5" height="4" fill="#000"/>
<rect x="762" y="435" width="3" height="2" fill="#006400"/>
<rect x="771" y="428" width="1" height="24" fill="#000"/>
<rect x="769" y="435" width="5" height="8" fill="#000"/>
<rect x="770" y="436" width="3" height="6" fill="#ff0000"/>
<rect x="779" y="433" width="1" height="13" fill="#000"/>
<rect x="777" y="440" width="5" height="4" fill="#000"/>
<rect x="778" y="441" width="3" height="2" fill="#006400"/>
<rect x="787" y="430" width="1" height="22" fill="#000"/>
<rect x="785" y="432" width="5" height="18" fill="#000"/>
<rect x="786" y="433" width="3" height="16" fill="#006400"/>
<rect x="795" y="428" width="1" height="23" fill="#000"/>
<rect x="793" y="434" width="5" height="16" fill="#000"/>
<rect x="794" y="435" width="3" height="14" fill="#ff0000"/>
<rect x="803" y="445" width="1" height="17" fill="#000"/>
<rect x="801" y="447" width="5" height="3" fill="#000"/>
<rect x="802" y="448" width="3" height="1" fill="#006400"/>
<rect x="811" y="434" width="1" height="35" fill="#000"/>
<rect x="809" y="450" width="5" height="13" fill="#000"/>
<rect x="810" y="451" width="3" height="11" fill="#ff0000"/>
<rect x="819" y="453" width="1" height="50" fill="#000"/>
<rect x="817" y="462" width="5" height="38" fill="#000"/>
<rect x="818" y="463" width="3" height="36" fill="#ff0000"/>
<rect x="827" y="472" width="1" height="22" fill="#000"/>
<rect x="825" y="482" width="5" height="1" fill="#000"/>
<rect x="835" y="477" width="1" height="40" fill="#000"/>
<rect x="833" y="482" width="5" height="12" fill="#000"/>
<rect x="834" y="483" width="3" height="10" fill="#ff0000"/>
<rect x="843" y="476" width="1" height="22" fill="#000"/>
<rect x="841" y="482" width="5" height="14" fill="#000"/>
<rect x="842" y="483" width="3" height="12" fill="#006400"/>
<rect x="851" y="480" width="1" height="22" fill="#000"/>
<rect x="849" y="488" width="5" height="8" fill="#000"/>
<rect x="850" y="489" width="3" height="6" fill="#ff0000"/>
<rect x="859" y="486" width="1" height="30" fill="#000"/>
<rect x="857" y="491" width="5" height="5" fill="#000"/>
<rect x="858" y="492" width="3" height="3" fill="#006400"/>
<rect x="867" y="477" width="1" height="19" fill="#000"/>
<rect x="865" y="482" width="5" height="11" fill="#000"/>
<rect x="866" y="483" width="3" height="9" fill="#006400"/>
<rect x="875" y="476" width="1" height="26" fill="#000"/>
<rect x="873" y="482" width="5" height="12" fill="#000"/>
<rect x="874" y="483" width="3" height="10" fill="#ff0000"/>
<rect x="883" y="482" width="1" height="17" fill="#00ff00"/>
<rect x="881" y="494" width="5" height="1" fill="#00ff00"/>
<rect x="891" y="479" width="1" height="20" fill="#000"/>
<rect x="889" y="482" width="5" height="15" fill="#000"/>
<rect x="890" y="483" width="3" height="13" fill="#006400"/>
<rect x="899" y="474" width="1" height="18" fill="#000"/>
<rect x="897" y="482" width="5" height="3" fill="#000"/>
<rect x="898" y="483" width="3" height="1" fill="#006400"/>
<rect x="907" y="459" width="1" height="16" fill="#000"/>
<rect x="905" y="462" width="5" height="8" fill="#000"/>
<rect x="906" y="463" width="3" height="6" fill="#006400"/>
<rect x="915" y="444" width="1" height="23" fill="#000"/>
<rect x="913" y="449" width="5" height="13" fill="#000"/>
<rect x="914" y="450" width="3" height="11" fill="#006400"/>
<rect x="923" y="432" width="1" height="29" fill="#000"/>
<rect x="921" y="448" width="5" height="7" fill="#000"/>
<rect x="922" y="449" width="3" height="5" fill="#ff0000"/>
<rect x="931" y="441" width="1" height="32" fill="#000"/>
<rect x="929" y="453" width="5" height="11" fill="#000"/>
<rect x="930" y="454" width="3" height="9" fill="#ff0000"/>
<rect x="939" y="459" width="1" height="14" fill="#000"/>
<rect x="937" y="462" width="5" height="8" fill="#000"/>
<rect x="938" y="463" width="3" height="6" fill="#ff0000"/>
<rect x="947" y="458" width="1" height="22" fill="#000"/>
<rect x="945" y="468" width="5" height="3" fill="#000"/>
<rect x="946" y="469" width="3" height="1" fill="#ff0000"/>
<rect x="955" y="469" width="1" height="29" fill="#000"/>
<rect x="953" y="471" width="5" height="23" fill="#000"/>
<rect x="954" y="472" width="3" height="21" fill="#ff0000"/>
<rect x="963" y="481" width="1" height="27" fill="#000"/>
<rect x="961" y="486" width="5" height="8" fill="#000"/>
<rect x="962" y="487" width="3" height="6" fill="#006400"/>
<rect x="971" y="480" width="1" height="26" fill="#000"/>
<rect x="969" y="486" width="5" height="13" fill="#000"/>
<rect x="970" y="487" width="3" height="11" fill="#ff0000"/>
<rect x="979" y="488" width="1" height="16" fill="#000"/>
<rect x="977" y="490" width="5" height="8" fill="#000"/>
<rect x="978" y="491" width="3" height="6" fill="#006400"/>
<rect x="987" y="468" width="1" height="26" fill="#000"/>
<rect x="985" y="471" width="5" height="20" fill="#000"/>
<rect x="986" y="472" width="3" height="18" fill="#006400"/>
<rect x="995" y="469" width="1" height="12" fill="#000"/>
<rect x="993" y="472" width="5" height="4" fill="#000"/>
<rect x="994" y="473" width="3" height="2" fill="#ff0000"/>
<rect x="1003" y="464" width="1" height="17" fill="#000"/>
<rect x="1001" y="468" width="5" height="12" fill="#000"/>
<rect x="1002" y="469" width="3" height="10" fill="#006400"/>
<rect x="1011" y="450" width="1" height="27" fill="#000"/>
<rect x="1009" y="469" width="5" height="6" fill="#000"/>
<rect x="1010" y="470" width="3" height="4" fill="#ff0000"/>
<rect x="1019" y="463" width="1" height="24" fill="#000"/>
<rect x="1017" y="470" width="5" height="6" fill="#000"/>
<rect x="1018" y="471" width="3" height="4" fill="#006400"/>
<rect x="1027" y="470" width="1" height="27" fill="#000"/>
<rect x="1025" y="473" width="5" height="19" fill="#000"/>
<rect x="1026" y="474" width="3" height="17" fill="#ff0000"/>
<rect x="1035" y="479" width="1" height="26" fill="#000"/>
<rect x="1033" y="485" width="5" height="7" fill="#000"/>
<rect x="1034" y="486" width="3" height="5" fill="#006400"/>
<rect x="1043" y="482" width="1" height="30" fill="#000"/>
<rect x="1041" y="486" width="5" height="13" fill="#000"/>
<rect x="1042" y="487" width="3" height="11" fill="#ff0000"/>
<rect x="1051" y="486" width="1" height="33" fill="#000"/>
<rect x="1049" y="498" width="5" height="19" fill="#000"/>
<rect x="1050" y="499" width="3" height="17" fill="#ff0000"/>
<rect x="1059" y="506" width="1" height="20" fill="#000"/>
<rect x="1057" y="508" width="5" height="9" fill="#000"/>
<rect x="1058" y="509" width="3" height="7" fill="#006400"/>
<rect x="1067" y="504" width="1" height="13" fill="#000"/>
<rect x="1065" y="505" width="5" height="3" fill="#000"/>
<rect x="1066" y="506" width="3" height="1" fill="#006400"/>
<rect x="1075" y="500" width="1" height="19" fill="#000"/>
<rect x="1073" y="502" width="5" height="5" fill="#000"/>
<rect x="1074" y="503" width="3" height="3" fill="#006400"/>
<rect x="1083" y="477" width="1" height="29" fill="#000"/>
<rect x="1081" y="480" width="5" height="25" fill="#000"/>
<rect x="1082" y="481" width="3" height="23" fill="#006400"/>
<rect x="1091" y="469" width="1" height="12" fill="#000"/>
<rect x="1089" y="472" width="5" height="9" fill="#000"/>
<rect x="1090" y="473" width="3" height="7" fill="#006400"/>
<rect x="1099" y="459" width="1" height="20" fill="#000"/>
<rect x="1097" y="463" width="5" height="10" fill="#000"/>
<rect x="1098" y="464" width="3" height="8" fill="#006400"/>
<rect x="1107" y="456" width="1" height="16" fill="#000"/>
<rect x="1105" y="467" width="5" height="2" fill="#000"/>
<rect x="1115" y="453" width="1" height="19" fill="#000"/>
<rect x="1113" y="459" width="5" height="9" fill="#000"/>
<rect x="1114" y="460" width="3" height="7" fill="#006400"/>
<rect x="1123" y="440" width="1" height="24" fill="#000"/>
<rect x="1121" y="440" width="5" height="20" fill="#000"/>
<rect x="1122" y="441" width="3" height="18" fill="#006400"/>
<rect x="1131" y="428" width="1" height="15" fill="#000"/>
<rect x="1129" y="436" width="5" height="6" fill="#000"/>
<rect x="1130" y="437" width="3" height="4" fill="#006400"/>
<rect x="1139" y="417" width="1" height="22" fill="#000"/>
<rect x="1137" y="422" width="5" height="15" fill="#000"/>
<rect x="1138" y="423" width="3" height="13" fill="#006400"/>
<rect x="1147" y="416" width="1" height="18" fill="#000"/>
<rect x="1145" y="426" width="5" height="4" fill="#000"/>
<rect x="1146" y="427" width="3" height="2" fill="#ff0000"/>
<rect x="1155" y="414" width="1" height="23" fill="#000"/>
<rect x="1153" y="420" width="5" height="12" fill="#000"/>
<rect x="1154" y="421" width="3" height="10" fill="#006400"/>
<rect x="1163" y="399" width="1" height="28" fill="#000"/>
<rect x="1161" y="404" width="5" height="18" fill="#000"/>
<rect x="1162" y="405" width="3" height="16" fill="#006400"/>
<rect x="1171" y="402" width="1" height="26" fill="#000"/>
<rect x="1169" y="405" width="5" height="6" fill="#000"/>
<rect x="1170" y="406" width="3" height="4" fill="#ff0000"/>
<rect x="1179" y="403" width="1" height="22" fill="#000"/>
<rect x="1177" y="410" width="5" height="5" fill="#000"/>
<rect x="1178" y="411" width="3" height="3" fill="#ff0000"/>
<rect x="1187" y="413" width="1" height="14" fill="#000"/>
<rect x="1185" y="421" width="5" height="1" fill="#000"/>
<rect x="1195" y="411" width="1" height="21" fill="#000"/>
<rect x="1193" y="420" width="5" height="6" fill="#000"/>
<rect x="1194" y="421" width="3" height="4" fill="#ff0000"/>
<rect x="1203" y="423" width="1" height="18" fill="#000"/>
<rect x="1201" y="426" width="5" height="13" fill="#000"/>
<rect x="1202" y="427" width="3" height="11" fill="#ff0000"/>
<rect x="1211" y="425" width="1" height="20" fill="#000"/>
<rect x="1209" y="434" width="5" height="6" fill="#000"/>
<rect x="1210" y="435" width="3" height="4" fill="#006400"/>
<rect x="1219" y="428" width="1" height="11" fill="#000"/>
<rect x="1217" y="435" width="5" height="1" fill="#000"/>
<rect x="1227" y="411" width="1" height="27" fill="#000"/>
<rect x="1225" y="413" width="5" height="24" fill="#000"/>
<rect x="1226" y="414" width="3" height="22" fill="#006400"/>
<rect x="1235" y="391" width="1" height="24" fill="#000"/>
<rect x="1233" y="392" width="5" height="23" fill="#000"/>
<rect x="1234" y="393" width="3" height="21" fill="#006400"/>
<rect x="1243" y="384" width="1" height="10" fill="#000"/>
<rect x="1241" y="390" width="5" height="3" fill="#000"/>
<rect x="1242" y="391" width="3" height="1" fill="#006400"/>
<rect x="1251" y="380" width="1" height="15" fill="#000"/>
<rect x="1249" y="388" width="5" height="1" fill="#000"/>
<rect x="1259" y="380" width="1" height="21" fill="#000"/>
<rect x="1257" y="392" width="5" height="5" fill="#000"/>
<rect x="1258" y="393" width="3" height="3" fill="#ff0000"/>
<rect x="1267" y="384" width="1" height="15" fill="#000"/>
<rect x="1265" y="396" width="5" height="1" fill="#000"/>
<rect x="1275" y="392" width="1" height="18" fill="#000"/>
<rect x="1273" y="396" width="5" height="10" fill="#000"/>
<rect x="1274" y="397" width="3" height="8" fill="#ff0000"/>
<rect x="1283" y="389" width="1" height="15" fill="#000"/>
<rect x="1281" y="395" width="5" height="8" fill="#000"/>
<rect x="1282" y="396" width="3" height="6" fill="#006400"/>
<rect x="1291" y="383" width="1" height="28" fill="#000"/>
<rect x="1289" y="386" width="5" height="17" fill="#000"/>
<rect x="1290" y="387" width="3" height="15" fill="#006400"/>
<rect x="1299" y="372" width="1" height="20" fill="#000"/>
<rect x="1297" y="374" width="5" height="13" fill="#000"/>
<rect x="1298" y="375" width="3" height="11" fill="#006400"/>
<rect x="1307" y="360" width="1" height="25" fill="#000"/>
<rect x="1305" y="375" width="5" height="9" fill="#000"/>
<rect x="1306" y="376" width="3" height="7" fill="#ff0000"/>
<rect x="1315" y="380" width="1" height="22" fill="#000"/>
<rect x="1313" y="384" width="5" height="10" fill="#000"/>
<rect x="1314" y="385" width="3" height="8" fill="#ff0000"/>
<rect x="1323" y="390" width="1" height="21" fill="#000"/>
<rect x="1321" y="393" width="5" height="6" fill="#000"/>
<rect x="1322" y="394" width="3" height="4" fill="#ff0000"/>
<rect x="1331" y="384" width="1" height="21" fill="#000"/>
<rect x="1329" y="388" width="5" height="16" fill="#000"/>
<rect x="1330" y="389" width="3" height="14" fill="#006400"/>
<rect x="1339" y="378" width="1" height="29" fill="#000"/>
<rect x="1337" y="388" width="5" height="15" fill="#000"/>
<rect x="1338" y="389" width="3" height="13" fill="#ff0000"/>
<rect x="1347" y="391" width="1" height="16" fill="#000"/>
<rect x="1345" y="402" width="5" height="1" fill="#000"/>
<rect x="1355" y="388" width="1" height="21" fill="#000"/>
<rect x="1353" y="394" width="5" height="10" fill="#000"/>
<rect x="1354" y="395" width="3" height="8" fill="#006400"/>
<rect x="1363" y="388" width="1" height="19" fill="#000"/>
<rect x="1361" y="394" width="5" height="7" fill="#000"/>
<rect x="1362" y="395" width="3" height="5" fill="#ff0000"/>
<rect x="1371" y="384" width="1" height="23" fill="#000"/>
<rect x="1369" y="386" width="5" height="21" fill="#000"/>
<rect x="1370" y="387" width="3" height="19" fill="#006400"/>
<rect x="1379" y="370" width="1" height="21" fill="#000"/>
<rect x="1377" y="375" width="5" height="14" fill="#000"/>
<rect x="1378" y="376" width="3" height="12" fill="#006400"/>
<rect x="1387" y="355" width="1" height="25" fill="#000"/>
<rect x="1385" y="364" width="5" height="13" fill="#000"/>
<rect x="1386" y="365" width="3" height="11" fill="#006400"/>
<rect x="1395" y="323" width="1" height="44" fill="#000"/>
<rect x="1393" y="326" width="5" height="40" fill="#000"/>
<rect x="1394" y="327" width="3" height="38" fill="#006400"/>
<rect x="1403" y="297" width="1" height="32" fill="#000"/>
<rect x="1401" y="299" width="5" height="29" fill="#000"/>
<rect x="1402" y="300" width="3" height="27" fill="#006400"/>
<rect x="1411" y="277" width="1" height="18" fill="#000"/>
<rect x="1409" y="286" width="5" height="5" fill="#000"/>
<rect x="1410" y="287" width="3" height="3" fill="#ff0000"/>
<rect x="1419" y="241" width="1" height="56" fill="#000"/>
<rect x="1417" y="244" width="5" height="49" fill="#000"/>
<rect x="1418" y="245" width="3" height="47" fill="#006400"/>
<rect x="1427" y="229" width="1" height="32" fill="#000"/>
<rect x="1425" y="230" width="5" height="16" fill="#000"/>
<rect x="1426" y="231" width="3" height="14" fill="#006400"/>
<rect x="1435" y="204" width="1" height="61" fill="#000"/>
<rect x="1433" y="226" width="5" height="7" fill="#000"/>
<rect x="1434" y="227" width="3" height="5" fill="#006400"/>
<rect x="1443" y="224" width="1" height="55" fill="#000"/>
<rect x="1441" y="226" width="5" height="42" fill="#000"/>
<rect x="1442" y="227" width="3" height="40" fill="#ff0000"/>
<rect x="1451" y="263" width="1" height="31" fill="#000"/>
<rect x="1449" y="275" width="5" height="1" fill="#000"/>
<rect x="1459" y="225" width="1" height="53" fill="#000"/>
<rect x="1457" y="239" width="5" height="39" fill="#000"/>
<rect x="1458" y="240" width="3" height="37" fill="#006400"/>
<rect x="1467" y="229" width="1" height="35" fill="#000"/>
<rect x="1465" y="242" width="5" height="10" fill="#000"/>
<rect x="1466" y="243" width="3" height="8" fill="#ff0000"/>
<rect x="1475" y="246" width="1" height="41" fill="#000"/>
<rect x="1473" y="253" width="5" height="33" fill="#000"/>
<rect x="1474" y="254" width="3" height="31" fill="#ff0000"/>
<rect x="1483" y="237" width="1" height="62" fill="#000"/>
<rect x="1481" y="242" width="5" height="44" fill="#000"/>
<rect x="1482" y="243" width="3" height="42" fill="#006400"/>
<rect x="1491" y="202" width="1" height="45" fill="#000"/>
<rect x="1489" y="205" width="5" height="42" fill="#000"/>
<rect x="1490" y="206" width="3" height="40" fill="#006400"/>
<rect x="1499" y="205" width="1" height="14" fill="#000"/>
<rect x="1497" y="206" width="5" height="9" fill="#000"/>
<rect x="1498" y="207" width="3" height="7" fill="#ff0000"/>
<rect x="1507" y="181" width="1" height="39" fill="#000"/>
<rect x="1505" y="189" width="5" height="26" fill="#000"/>
<rect x="1506" y="190" width="3" height="24" fill="#006400"/>
<rect x="1515" y="179" width="1" height="35" fill="#000"/>
<rect x="1513" y="192" width="5" height="16" fill="#000"/>
<rect x="1514" y="193" width="3" height="14" fill="#ff0000"/>
<rect x="1523" y="203" width="1" height="26" fill="#000"/>
<rect x="1521" y="207" width="5" height="8" fill="#000"/>
<rect x="1522" y="208" width="3" height="6" fill="#ff0000"/>
<rect x="1531" y="203" width="1" height="21" fill="#000"/>
<rect x="1529" y="216" width="5" height="8" fill="#000"/>
<rect x="1530" y="217" width="3" height="6" fill="#006400"/>
<rect x="1539" y="206" width="1" height="32" fill="#000"/>
<rect x="1537" y="209" width="5" height="7" fill="#000"/>
<rect x="1538" y="210" width="3" height="5" fill="#006400"/>
<rect x="1547" y="207" width="1" height="26" fill="#000"/>
<rect x="1545" y="210" width="5" height="20" fill="#000"/>
<rect x="1546" y="211" width="3" height="18" fill="#ff0000"/>
<rect x="1555" y="211" width="1" height="28" fill="#000"/>
<rect x="1553" y="224" width="5" height="7" fill="#000"/>
<rect x="1554" y="225" width="3" height="5" fill="#006400"/>
<rect x="1563" y="204" width="1" height="39" fill="#000"/>
<rect x="1561" y="209" width="5" height="17" fill="#000"/>
<rect x="1562" y="210" width="3" height="15" fill="#006400"/>
<rect x="1571" y="196" width="1" height="31" fill="#000"/>
<rect x="1569" y="216" width="5" height="8" fill="#000"/>
<rect x="1570" y="217" width="3" height="6" fill="#ff0000"/>
<rect x="1579" y="214" width="1" height="14" fill="#000"/>
<rect x="1577" y="218" width="5" height="9" fill="#000"/>
<rect x="1578" y="219" width="3" height="7" fill="#006400"/>
<line x1="1075.8" y1="518.3" x2="1339.5" y2="377.3" stroke="#000" stroke-width="3" shape-rendering="auto"/>
<line x1="1373.5" y1="403.7" x2="1588" y2="172.7" stroke="#000" stroke-width="3" shape-rendering="auto"/>
<text transform="translate(1869,30) scale(0.985,1.04)" text-anchor="end" font-family="Liberation Sans" font-size="28" fill="#ff0000" shape-rendering="auto">R3 - 0.7455</text>
<text transform="translate(1868,112) scale(0.985,1.04)" text-anchor="end" font-family="Liberation Sans" font-size="28" fill="#ff0000" shape-rendering="auto">R2 - 0.7280</text>
<text transform="translate(1869,175) scale(0.985,1.04)" text-anchor="end" font-family="Liberation Sans" font-size="28" fill="#ff0000" shape-rendering="auto">R1 - 0.7145</text>
<text transform="translate(1869,308) scale(0.985,1.04)" text-anchor="end" font-family="Liberation Sans" font-size="28" fill="#006400" shape-rendering="auto">S1 - 0.6940</text>
<text transform="translate(1869,372) scale(0.985,1.04)" text-anchor="end" font-family="Liberation Sans" font-size="28" fill="#006400" shape-rendering="auto">S2 - 0.6800</text>
<text transform="translate(1867.5,456) scale(0.985,1.04)" text-anchor="end" font-family="Liberation Sans" font-size="28" fill="#006400" shape-rendering="auto">S3 - 0.6620</text>
</g>
<path d="M6 9 L13 9 L9.5 13 Z" fill="#000" shape-rendering="auto"/>
<text x="19" y="14.2" font-family="Liberation Sans" font-size="9.8" fill="#000" textLength="64.5" lengthAdjust="spacingAndGlyphs">AUDUSD,Daily</text>
<text x="90" y="14.2" font-family="Liberation Sans" font-size="9.8" fill="#000" textLength="140" lengthAdjust="spacingAndGlyphs">0.70473 0.70723 0.70461 0.70647</text>
<rect x="2" y="2" width="1869" height="1" fill="#000"/>
<rect x="2" y="2" width="1" height="714" fill="#000"/>
<rect x="2" y="715" width="1869" height="1" fill="#000"/>
<rect x="1870" y="2" width="1" height="714" fill="#000"/>
<rect x="2" y="717" width="1869" height="1" fill="#000"/>
<rect x="2" y="717" width="1" height="151" fill="#000"/>
<rect x="2" y="867" width="1869" height="1" fill="#000"/>
<rect x="1870" y="717" width="1" height="151" fill="#000"/>
<rect x="1871" y="19" width="2" height="1" fill="#000"/>
<text x="1876" y="23.2" font-family="Liberation Sans" font-size="9.8" fill="#000" textLength="33" lengthAdjust="spacingAndGlyphs">0.74810</text>
<rect x="1871" y="52" width="2" height="1" fill="#000"/>
<text x="1876" y="56.2" font-family="Liberation Sans" font-size="9.8" fill="#000" textLength="33" lengthAdjust="spacingAndGlyphs">0.74130</text>
<rect x="1871" y="85" width="2" height="1" fill="#000"/>
<text x="1876" y="89.2" font-family="Liberation Sans" font-size="9.8" fill="#000" textLength="33" lengthAdjust="spacingAndGlyphs">0.73430</text>
<rect x="1871" y="118" width="2" height="1" fill="#000"/>
<text x="1876" y="122.2" font-family="Liberation Sans" font-size="9.8" fill="#000" textLength="33" lengthAdjust="spacingAndGlyphs">0.72750</text>
<rect x="1871" y="151" width="2" height="1" fill="#000"/>
<text x="1876" y="155.2" font-family="Liberation Sans" font-size="9.8" fill="#000" textLength="33" lengthAdjust="spacingAndGlyphs">0.72050</text>
<rect x="1871" y="184" width="2" height="1" fill="#000"/>
<text x="1876" y="188.2" font-family="Liberation Sans" font-size="9.8" fill="#000" textLength="33" lengthAdjust="spacingAndGlyphs">0.71350</text>
<rect x="1871" y="217" width="2" height="1" fill="#000"/>
<text x="1876" y="221.2" font-family="Liberation Sans" font-size="9.8" fill="#000" textLength="33" lengthAdjust="spacingAndGlyphs">0.70650</text>
<rect x="1871" y="250" width="2" height="1" fill="#000"/>
<text x="1876" y="254.2" font-family="Liberation Sans" font-size="9.8" fill="#000" textLength="33" lengthAdjust="spacingAndGlyphs">0.69970</text>
<rect x="1871" y="283" width="2" height="1" fill="#000"/>
<text x="1876" y="287.2" font-family="Liberation Sans" font-size="9.8" fill="#000" textLength="33" lengthAdjust="spacingAndGlyphs">0.69270</text>
<rect x="1871" y="316" width="2" height="1" fill="#000"/>
<text x="1876" y="320.2" font-family="Liberation Sans" font-size="9.8" fill="#000" textLength="33" lengthAdjust="spacingAndGlyphs">0.68590</text>
<rect x="1871" y="349" width="2" height="1" fill="#000"/>
<text x="1876" y="353.2" font-family="Liberation Sans" font-size="9.8" fill="#000" textLength="33" lengthAdjust="spacingAndGlyphs">0.67890</text>
<rect x="1871" y="382" width="2" height="1" fill="#000"/>
<text x="1876" y="386.2" font-family="Liberation Sans" font-size="9.8" fill="#000" textLength="33" lengthAdjust="spacingAndGlyphs">0.67210</text>
<rect x="1871" y="415" width="2" height="1" fill="#000"/>
<text x="1876" y="419.2" font-family="Liberation Sans" font-size="9.8" fill="#000" textLength="33" lengthAdjust="spacingAndGlyphs">0.66510</text>
<rect x="1871" y="448" width="2" height="1" fill="#000"/>
<text x="1876" y="452.2" font-family="Liberation Sans" font-size="9.8" fill="#000" textLength="33" lengthAdjust="spacingAndGlyphs">0.65810</text>
<rect x="1871" y="481" width="2" height="1" fill="#000"/>
<text x="1876" y="485.2" font-family="Liberation Sans" font-size="9.8" fill="#000" textLength="33" lengthAdjust="spacingAndGlyphs">0.65130</text>
<rect x="1871" y="514" width="2" height="1" fill="#000"/>
<text x="1876" y="518.2" font-family="Liberation Sans" font-size="9.8" fill="#000" textLength="33" lengthAdjust="spacingAndGlyphs">0.64430</text>
<rect x="1871" y="547" width="2" height="1" fill="#000"/>
<text x="1876" y="551.2" font-family="Liberation Sans" font-size="9.8" fill="#000" textLength="33" lengthAdjust="spacingAndGlyphs">0.63750</text>
<rect x="1871" y="580" width="2" height="1" fill="#000"/>
<text x="1876" y="584.2" font-family="Liberation Sans" font-size="9.8" fill="#000" textLength="33" lengthAdjust="spacingAndGlyphs">0.63050</text>
<rect x="1871" y="613" width="2" height="1" fill="#000"/>
<text x="1876" y="617.2" font-family="Liberation Sans" font-size="9.8" fill="#000" textLength="33" lengthAdjust="spacingAndGlyphs">0.62350</text>
<rect x="1871" y="646" width="2" height="1" fill="#000"/>
<text x="1876" y="650.2" font-family="Liberation Sans" font-size="9.8" fill="#000" textLength="33" lengthAdjust="spacingAndGlyphs">0.61670</text>
<rect x="1871" y="679" width="2" height="1" fill="#000"/>
<text x="1876" y="683.2" font-family="Liberation Sans" font-size="9.8" fill="#000" textLength="33" lengthAdjust="spacingAndGlyphs">0.60970</text>
<rect x="1871" y="712" width="2" height="1" fill="#000"/>
<text x="1876" y="716.2" font-family="Liberation Sans" font-size="9.8" fill="#000" textLength="33" lengthAdjust="spacingAndGlyphs">0.60290</text>
<rect x="1872" y="26" width="41" height="11" fill="#ff0000"/>
<text x="1876" y="35.6" font-family="Liberation Sans" font-size="9.8" fill="#fff" textLength="33" lengthAdjust="spacingAndGlyphs">0.74550</text>
<rect x="1872" y="109" width="41" height="11" fill="#ff0000"/>
<text x="1876" y="118.6" font-family="Liberation Sans" font-size="9.8" fill="#fff" textLength="33" lengthAdjust="spacingAndGlyphs">0.72800</text>
<rect x="1872" y="173" width="41" height="11" fill="#ff0000"/>
<text x="1876" y="182.6" font-family="Liberation Sans" font-size="9.8" fill="#fff" textLength="33" lengthAdjust="spacingAndGlyphs">0.71450</text>
<rect x="1872" y="212" width="41" height="11" fill="#000000"/>
<text x="1876" y="221.6" font-family="Liberation Sans" font-size="9.8" fill="#fff" textLength="33" lengthAdjust="spacingAndGlyphs">0.70647</text>
<rect x="1872" y="271" width="41" height="11" fill="#006400"/>
<text x="1876" y="280.6" font-family="Liberation Sans" font-size="9.8" fill="#fff" textLength="33" lengthAdjust="spacingAndGlyphs">0.69400</text>
<rect x="1872" y="338" width="41" height="11" fill="#006400"/>
<text x="1876" y="347.6" font-family="Liberation Sans" font-size="9.8" fill="#fff" textLength="33" lengthAdjust="spacingAndGlyphs">0.68000</text>
<rect x="1872" y="424" width="41" height="11" fill="#006400"/>
<text x="1876" y="433.6" font-family="Liberation Sans" font-size="9.8" fill="#fff" textLength="33" lengthAdjust="spacingAndGlyphs">0.66200</text>
<rect x="1872" y="541" width="41" height="11" fill="#006400"/>
<text x="1876" y="550.6" font-family="Liberation Sans" font-size="9.8" fill="#fff" textLength="33" lengthAdjust="spacingAndGlyphs">0.63750</text>
<rect x="1872" y="657" width="41" height="11" fill="#006400"/>
<text x="1876" y="666.6" font-family="Liberation Sans" font-size="9.8" fill="#fff" textLength="33" lengthAdjust="spacingAndGlyphs">0.61300</text>
<rect x="3" y="868" width="1" height="3" fill="#000"/>
<text x="1.5" y="880" font-family="Liberation Sans" font-size="9.6" fill="#000" textLength="55.6" lengthAdjust="spacingAndGlyphs">21 May 2025</text>
<rect x="67" y="868" width="1" height="3" fill="#000"/>
<text x="66.1" y="880" font-family="Liberation Sans" font-size="9.6" fill="#000" textLength="44.6" lengthAdjust="spacingAndGlyphs">2 Jun 2025</text>
<rect x="131" y="868" width="1" height="3" fill="#000"/>
<text x="129.7" y="880" font-family="Liberation Sans" font-size="9.6" fill="#000" textLength="50.8" lengthAdjust="spacingAndGlyphs">12 Jun 2025</text>
<rect x="195" y="868" width="1" height="3" fill="#000"/>
<text x="194.5" y="880" font-family="Liberation Sans" font-size="9.6" fill="#000" textLength="49.4" lengthAdjust="spacingAndGlyphs">24 Jun 2025</text>
<rect x="259" y="868" width="1" height="3" fill="#000"/>
<text x="257.9" y="880" font-family="Liberation Sans" font-size="9.6" fill="#000" textLength="42.4" lengthAdjust="spacingAndGlyphs">4 Jul 2025</text>
<rect x="323" y="868" width="1" height="3" fill="#000"/>
<text x="321.7" y="880" font-family="Liberation Sans" font-size="9.6" fill="#000" textLength="47.4" lengthAdjust="spacingAndGlyphs">16 Jul 2025</text>
<rect x="387" y="868" width="1" height="3" fill="#000"/>
<text x="386.3" y="880" font-family="Liberation Sans" font-size="9.6" fill="#000" textLength="46.4" lengthAdjust="spacingAndGlyphs">28 Jul 2025</text>
<rect x="451" y="868" width="1" height="3" fill="#000"/>
<text x="449.5" y="880" font-family="Liberation Sans" font-size="9.6" fill="#000" textLength="48.4" lengthAdjust="spacingAndGlyphs">7 Aug 2025</text>
<rect x="515" y="868" width="1" height="3" fill="#000"/>
<text x="514.3" y="880" font-family="Liberation Sans" font-size="9.6" fill="#000" textLength="52.6" lengthAdjust="spacingAndGlyphs">19 Aug 2025</text>
<rect x="579" y="868" width="1" height="3" fill="#000"/>
<text x="577.9" y="880" font-family="Liberation Sans" font-size="9.6" fill="#000" textLength="53.6" lengthAdjust="spacingAndGlyphs">29 Aug 2025</text>
<rect x="643" y="868" width="1" height="3" fill="#000"/>
<text x="641.5" y="880" font-family="Liberation Sans" font-size="9.6" fill="#000" textLength="52.4" lengthAdjust="spacingAndGlyphs">10 Sep 2025</text>
<rect x="707" y="868" width="1" height="3" fill="#000"/>
<text x="706.1" y="880" font-family="Liberation Sans" font-size="9.6" fill="#000" textLength="51.6" lengthAdjust="spacingAndGlyphs">22 Sep 2025</text>
<rect x="771" y="868" width="1" height="3" fill="#000"/>
<text x="770.7" y="880" font-family="Liberation Sans" font-size="9.6" fill="#000" textLength="45.4" lengthAdjust="spacingAndGlyphs">2 Oct 2025</text>
<rect x="835" y="868" width="1" height="3" fill="#000"/>
<text x="834.3" y="880" font-family="Liberation Sans" font-size="9.6" fill="#000" textLength="50.8" lengthAdjust="spacingAndGlyphs">14 Oct 2025</text>
<rect x="899" y="868" width="1" height="3" fill="#000"/>
<text x="897.5" y="880" font-family="Liberation Sans" font-size="9.6" fill="#000" textLength="51.6" lengthAdjust="spacingAndGlyphs">24 Oct 2025</text>
<rect x="963" y="868" width="1" height="3" fill="#000"/>
<text x="961.3" y="880" font-family="Liberation Sans" font-size="9.6" fill="#000" textLength="49.4" lengthAdjust="spacingAndGlyphs">5 Nov 2025</text>
<rect x="1027" y="868" width="1" height="3" fill="#000"/>
<text x="1025.9" y="880" font-family="Liberation Sans" font-size="9.6" fill="#000" textLength="54.6" lengthAdjust="spacingAndGlyphs">17 Nov 2025</text>
<rect x="1091" y="868" width="1" height="3" fill="#000"/>
<text x="1090.5" y="880" font-family="Liberation Sans" font-size="9.6" fill="#000" textLength="53.8" lengthAdjust="spacingAndGlyphs">27 Nov 2025</text>
<rect x="1155" y="868" width="1" height="3" fill="#000"/>
<text x="1154.1" y="880" font-family="Liberation Sans" font-size="9.6" fill="#000" textLength="46.6" lengthAdjust="spacingAndGlyphs">9 Dec 2025</text>
<rect x="1219" y="868" width="1" height="3" fill="#000"/>
<text x="1217.7" y="880" font-family="Liberation Sans" font-size="9.6" fill="#000" textLength="52.6" lengthAdjust="spacingAndGlyphs">19 Dec 2025</text>
<rect x="1283" y="868" width="1" height="3" fill="#000"/>
<text x="1281.7" y="880" font-family="Liberation Sans" font-size="9.6" fill="#000" textLength="45.2" lengthAdjust="spacingAndGlyphs">2 Jan 2026</text>
<rect x="1347" y="868" width="1" height="3" fill="#000"/>
<text x="1345.7" y="880" font-family="Liberation Sans" font-size="9.6" fill="#000" textLength="50.6" lengthAdjust="spacingAndGlyphs">14 Jan 2026</text>
<rect x="1411" y="868" width="1" height="3" fill="#000"/>
<text x="1410.3" y="880" font-family="Liberation Sans" font-size="9.6" fill="#000" textLength="50.4" lengthAdjust="spacingAndGlyphs">26 Jan 2026</text>
<rect x="1475" y="868" width="1" height="3" fill="#000"/>
<text x="1473.9" y="880" font-family="Liberation Sans" font-size="9.6" fill="#000" textLength="46.6" lengthAdjust="spacingAndGlyphs">5 Feb 2026</text>
<rect x="1539" y="868" width="1" height="3" fill="#000"/>
<text x="1537.5" y="880" font-family="Liberation Sans" font-size="9.6" fill="#000" textLength="52.6" lengthAdjust="spacingAndGlyphs">17 Feb 2026</text>
<line x1="4" y1="763.5" x2="1870" y2="763.5" stroke="#c0c0c0" stroke-width="1" stroke-dasharray="3 3"/>
<line x1="4" y1="792.5" x2="1870" y2="792.5" stroke="#c0c0c0" stroke-width="1" stroke-dasharray="3 3"/>
<line x1="4" y1="822.5" x2="1870" y2="822.5" stroke="#c0c0c0" stroke-width="1" stroke-dasharray="3 3"/>
<g clip-path="url(#cr)"><polyline points="3.5,786.3 11.5,790.3 19.5,779.4 27.5,781.0 35.5,788.2 43.5,791.3 51.5,788.2 59.5,789.5 67.5,780.3 75.5,786.3 83.5,782.3 91.5,780.3 99.5,782.6 107.5,779.4 115.5,778.6 123.5,783.2 131.5,778.6 139.5,787.3 147.5,782.6 155.5,791.3 163.5,785.7 171.5,791.1 179.5,796.6 187.5,794.1 195.5,788.8 203.5,785.3 211.5,779.4 219.5,782.6 227.5,775.7 235.5,774.4 243.5,774.4 251.5,778.6 259.5,781.9 267.5,796.6 275.5,788.6 283.5,787.3 291.5,778.6 299.5,781.1 307.5,787.6 315.5,794.1 323.5,792.6 331.5,799.1 339.5,795.3 347.5,792.0 355.5,787.0 363.5,777.6 371.5,780.1 379.5,785.7 387.5,794.5 395.5,798.6 403.5,810.4 411.5,811.4 419.5,801.6 427.5,802.4 435.5,801.4 443.5,793.6 451.5,790.3 459.5,789.5 467.5,792.0 475.5,788.2 483.5,784.1 491.5,796.6 499.5,793.2 507.5,797.0 515.5,804.9 523.5,808.6 531.5,811.4 539.5,793.2 547.5,795.3 555.5,792.3 563.5,790.3 571.5,784.4 579.5,784.1 587.5,780.3 595.5,789.5 603.5,784.4 611.5,790.3 619.5,779.8 627.5,775.3 635.5,778.6 643.5,771.3 651.5,766.3 659.5,768.5 667.5,765.3 675.5,763.2 683.5,773.6 691.5,784.1 699.5,788.4 707.5,787.3 715.5,787.3 723.5,791.1 731.5,802.4 739.5,800.4 747.5,792.3 755.5,784.4 763.5,784.1 771.5,788.2 779.5,787.3 787.5,783.2 795.5,793.2 803.5,792.6 811.5,800.7 819.5,815.4 827.5,805.4 835.5,810.4 843.5,803.6 851.5,808.2 859.5,805.1 867.5,801.4 875.5,805.1 883.5,806.6 891.5,799.5 899.5,799.5 907.5,788.2 915.5,782.6 923.5,785.7 931.5,790.0 939.5,793.2 947.5,794.1 955.5,805.1 963.5,801.4 971.5,806.4 979.5,802.4 987.5,791.3 995.5,793.2 1003.5,790.3 1011.5,793.6 1019.5,791.3 1027.5,802.4 1035.5,798.2 1043.5,803.6 1051.5,812.4 1059.5,808.2 1067.5,805.7 1075.5,803.6 1083.5,790.3 1091.5,786.6 1099.5,782.3 1107.5,785.7 1115.5,781.1 1123.5,772.8 1131.5,771.5 1139.5,765.3 1147.5,771.3 1155.5,768.5 1163.5,762.5 1171.5,766.3 1179.5,770.3 1187.5,775.1 1195.5,777.0 1203.5,787.4 1211.5,784.5 1219.5,785.3 1227.5,774.4 1235.5,765.7 1243.5,765.7 1251.5,764.4 1259.5,771.3 1267.5,770.3 1275.5,779.5 1283.5,775.1 1291.5,769.4 1299.5,765.7 1307.5,773.2 1315.5,779.5 1323.5,783.2 1331.5,778.6 1339.5,787.4 1347.5,787.4 1355.5,782.8 1363.5,787.4 1371.5,780.7 1379.5,773.8 1387.5,769.4 1395.5,758.3 1403.5,751.3 1411.5,749.4 1419.5,742.5 1427.5,741.5 1435.5,740.3 1443.5,763.6 1451.5,768.2 1459.5,760.3 1467.5,765.1 1475.5,779.5 1483.5,770.7 1491.5,763.2 1499.5,766.6 1507.5,762.3 1515.5,769.5 1523.5,772.3 1531.5,772.6 1539.5,770.3 1547.5,779.5 1555.5,777.4 1563.5,774.5 1571.5,779.5 1579.5,778.2" fill="none" stroke="#000" stroke-width="1" stroke-linejoin="round" shape-rendering="crispEdges"/></g>
<text x="6.3" y="730.3" font-family="Liberation Sans" font-size="9.8" fill="#000" textLength="69.5" lengthAdjust="spacingAndGlyphs">RSI(14) 59.9545</text>
<rect x="1871" y="719" width="1" height="1" fill="#000"/>
<rect x="1871" y="866" width="1" height="1" fill="#000"/>
<text x="1873" y="728" font-family="Liberation Sans" font-size="9.8" fill="#000">100</text>
<text x="1873" y="767.2" font-family="Liberation Sans" font-size="9.8" fill="#000">70</text>
<text x="1873" y="796.2" font-family="Liberation Sans" font-size="9.8" fill="#000">50</text>
<text x="1873" y="826.2" font-family="Liberation Sans" font-size="9.8" fill="#000">30</text>
<text x="1873" y="864.2" font-family="Liberation Sans" font-size="9.8" fill="#000">0</text>
</svg>
</body></html>
